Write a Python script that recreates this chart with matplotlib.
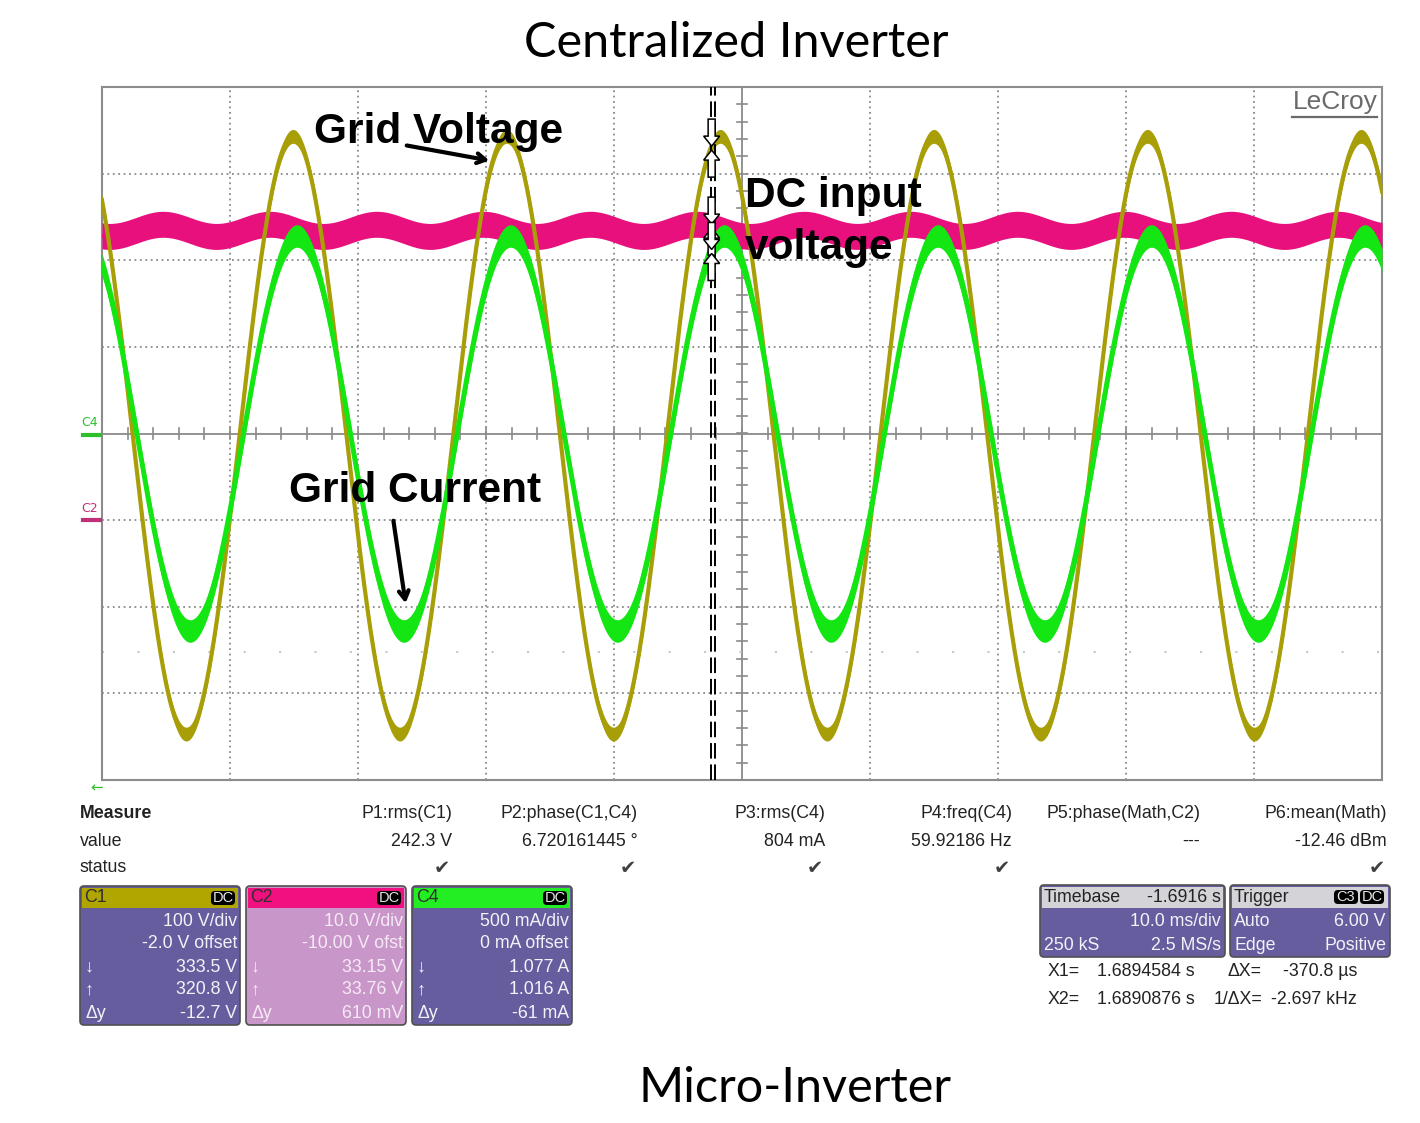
#!/usr/bin/env python3
"""LeCroy scope capture: centralized vs micro-inverter grid waveforms."""
import matplotlib
matplotlib.use("Agg")
import matplotlib.pyplot as plt
from matplotlib.patches import FancyBboxPatch, Rectangle, Polygon
import numpy as np

# ── values ──
freq_hz = 59.92186
phase_deg = 6.720161445
v_peak = 345.0            # C1 grid voltage (V)
v_offset = -2.0
v_per_div = 100.0
v_first_peak_ms = 14.92
i_peak = 1.14             # C4 grid current (A)
i_per_div = 0.5
dc_mean = 33.45           # C2 DC input voltage (V)
dc_ripple = 0.7
dc_offset = -10.0
dc_per_div = 10.0
dc_first_peak_ms = 4.77
cursor_x2_ms = 47.55
cursor_dx_ms = 0.3708

meas_names = ['P1:rms(C1)', 'P2:phase(C1,C4)', 'P3:rms(C4)', 'P4:freq(C4)',
              'P5:phase(Math,C2)', 'P6:mean(Math)']
meas_values = ['242.3 V', '6.720161445 °', '804 mA', '59.92186 Hz', '---', '-12.46 dBm']
meas_ok = [True, True, True, True, False, True]

ch_names = ['C1', 'C2', 'C4']
ch_scale = ['100 V/div', '10.0 V/div', '500 mA/div']
ch_offset = ['-2.0 V offset', '-10.00 V ofst', '0 mA offset']
ch_down = ['333.5 V', '33.15 V', '1.077 A']
ch_up = ['320.8 V', '33.76 V', '1.016 A']
ch_dy = ['-12.7 V', '610 mV', '-61 mA']

timebase = ['-1.6916 s', '10.0 ms/div', '250 kS', '2.5 MS/s']
trigger = ['Auto', '6.00 V', 'Edge', 'Positive']
cursor_rows = [('X1=', '1.6894584 s', 'ΔX=', '-370.8 µs'),
               ('X2=', '1.6890876 s', '1/ΔX=', '-2.697 kHz')]

# ── palette ──
OLIVE = '#a89f08'
PINK = '#e8107c'
GREEN = '#14e614'
GRID = '#8a8a8a'
PURPLE = '#655d9e'
LILAC = '#c896c8'
TXT = '#222222'

W, H = 1420, 1123
fig = plt.figure(figsize=(W / 100, H / 100), dpi=100, facecolor='white')

# ── scope screen (x in ms, y in divisions) ──
L, R, T, B = 102, 1382, 87, 780
ax = fig.add_axes([L / W, 1 - B / H, (R - L) / W, (B - T) / H])
ax.set_xlim(0, 100)
ax.set_ylim(-4, 4)
ax.set_xticks([])
ax.set_yticks([])
for s in ax.spines.values():
    s.set_color('#8c8c8c')
    s.set_linewidth(1.5)

for gx in range(10, 100, 10):
    if gx == 50:
        ax.axvline(gx, color=GRID, lw=1.3, zorder=1)
    else:
        ax.axvline(gx, color=GRID, lw=1.3, ls=(0, (1, 2)), zorder=1)
for gy in range(-3, 4):
    if gy == 0:
        ax.axhline(gy, color=GRID, lw=1.3, zorder=1)
    else:
        ax.axhline(gy, color=GRID, lw=1.3, ls=(0, (1, 2)), zorder=1)
ax.axhline(-2.52, color='#c8c8c8', lw=1.5, ls=(0, (1, 16)), zorder=1)
for tx in np.arange(2, 100, 2):
    ax.plot([tx, tx], [-0.06, 0.06], color=GRID, lw=1.2, zorder=1)
for ty in np.arange(-3.8, 4, 0.2):
    ax.plot([49.6, 50.4], [ty, ty], color=GRID, lw=1.2, zorder=1)

t = np.linspace(0, 100, 6001)
period = 1000.0 / freq_hz
lag = phase_deg / 360.0 * period
v = v_peak * np.cos(2 * np.pi * (t - v_first_peak_ms) / period)
cur = i_peak * np.cos(2 * np.pi * (t - v_first_peak_ms - lag) / period)
dc = dc_mean + dc_ripple * np.cos(2 * np.pi * (t - dc_first_peak_ms) * 2 / period)

y_v = (v + v_offset) / v_per_div
y_i = cur / i_per_div
y_dc = (dc + dc_offset) / dc_per_div

ax.fill_between(t, y_dc - 0.15, y_dc + 0.15, color=PINK, lw=0, zorder=3)
ax.plot(t, y_dc, color=PINK, lw=3, zorder=3)
ax.fill_between(t, y_v - 0.08, y_v + 0.08, color=OLIVE, lw=0, zorder=4)
ax.plot(t, y_v, color=OLIVE, lw=3, zorder=4)
ax.fill_between(t, y_i - 0.13, y_i + 0.13, color=GREEN, lw=0, zorder=5)
ax.plot(t, y_i, color=GREEN, lw=3.5, zorder=5)

# cursors
for cx in (cursor_x2_ms, cursor_x2_ms + cursor_dx_ms):
    ax.axvline(cx, color='black', lw=1.4, ls=(0, (8, 3)), zorder=6)

# ── overlay in pixel coordinates ──
ov = fig.add_axes([0, 0, 1, 1])
ov.set_xlim(0, W)
ov.set_ylim(H, 0)
ov.axis('off')

# hollow cursor arrows where the cursor crosses each trace
cx_px = L + cursor_x2_ms / 100 * (R - L) + 1
for yy in (np.interp(cursor_x2_ms, t, y_v), np.interp(cursor_x2_ms, t, y_dc),
           np.interp(cursor_x2_ms, t, y_i)):
    py = T + (4 - yy) / 8 * (B - T)
    for sgn in (-1, 1):
        tip = py + sgn * 2
        pts = [(cx_px - 3.5, tip + sgn * 27), (cx_px + 3.5, tip + sgn * 27),
               (cx_px + 3.5, tip + sgn * 10), (cx_px + 8, tip + sgn * 10),
               (cx_px, tip), (cx_px - 8, tip + sgn * 10),
               (cx_px - 3.5, tip + sgn * 10)]
        ov.add_patch(Polygon(pts, closed=True, facecolor='white',
                             edgecolor='black', lw=1.1, zorder=8))

ov.text(736, 43, 'Centralized Inverter', ha='center', va='center', fontsize=35,
        family='Lato', color='black')
ov.text(795, 1088, 'Micro-Inverter', ha='center', va='center', fontsize=35,
        family='Lato', color='black')

ov.text(1378, 102, 'LeCroy', ha='right', va='center', fontsize=19,
        family='Liberation Sans', color='#6a6a6a')
ov.plot([1292, 1377], [117, 117], color='#6a6a6a', lw=1.6)

ann = dict(fontsize=30.5, fontweight='bold', family='Liberation Sans', color='black',
           va='center', zorder=10)
ov.text(314, 132, 'Grid Voltage', ha='left', **ann)
ov.text(745, 196, 'DC input', ha='left', **ann)
ov.text(745, 248, 'voltage', ha='left', **ann)
ov.text(289, 491, 'Grid Current', ha='left', **ann)
ov.annotate('', xy=(492, 161), xytext=(404, 145),
            arrowprops=dict(arrowstyle='->,head_length=0.6,head_width=0.35',
                            color='black', lw=3), zorder=10)
ov.annotate('', xy=(406, 606), xytext=(393, 518),
            arrowprops=dict(arrowstyle='->,head_length=0.6,head_width=0.35',
                            color='black', lw=3), zorder=10)

# channel ground markers
ov.text(90, 423, 'C4', ha='center', va='center', fontsize=9, color='#2cc02c')
ov.plot([83, 100], [435, 435], color='#2cc02c', lw=3)
ov.text(90, 508, 'C2', ha='center', va='center', fontsize=9, color='#c0307a')
ov.plot([83, 100], [520, 520], color='#c0307a', lw=3)
ov.text(97, 788, '←', ha='center', va='center', fontsize=11, color='#30c030',
        family='DejaVu Sans')

# ── measure table ──
sc = dict(fontsize=12.8, family='Liberation Sans', color=TXT, va='center')
ov.text(80, 813, 'Measure', ha='left', fontweight='bold', **sc)
ov.text(80, 841, 'value', ha='left', **sc)
ov.text(80, 868, 'status', ha='left', **sc)
col_right = [452, 638, 825, 1012, 1200, 1387]
for xr, name, val, ok in zip(col_right, meas_names, meas_values, meas_ok):
    ov.text(xr, 813, name, ha='right', **sc)
    ov.text(xr, 841, val, ha='right', **sc)
    if ok:
        ov.text(xr - 10, 868, '✔', ha='center', va='center', fontsize=14,
                color='#404040', family='DejaVu Sans')


def badge(x, y, label):
    ov.add_patch(FancyBboxPatch((x, y - 7), 24, 14,
                                boxstyle='round,pad=0,rounding_size=4',
                                facecolor='black', edgecolor='none', zorder=4))
    ov.text(x + 12, y, label, ha='center', va='center', fontsize=10.5,
            family='Liberation Sans', color='#e8e8e8', zorder=5)


hdr_colors = ['#b1a500', '#f0107f', '#22ee22']
body_colors = [PURPLE, LILAC, PURPLE]
body_text = ['#f2f2f8', '#f6eaf6', '#f2f2f8']
for k, x0 in enumerate([80, 246, 412]):
    ov.add_patch(FancyBboxPatch((x0, 886), 160, 139,
                                boxstyle='round,pad=0,rounding_size=4',
                                facecolor=body_colors[k], edgecolor='#505050',
                                lw=1.2, zorder=2))
    ov.add_patch(Rectangle((x0 + 2, 888), 156, 20, facecolor=hdr_colors[k],
                           edgecolor='none', zorder=3))
    ov.text(x0 + 4, 898, ch_names[k], ha='left', zorder=5, **{**sc, 'color': '#303030'})
    badge(x0 + 131, 898, 'DC')
    rows = [ch_scale[k], ch_offset[k], ch_down[k], ch_up[k], ch_dy[k]]
    for r, txt in enumerate(rows):
        ov.text(x0 + 157, 921 + 23 * r, txt, ha='right', zorder=5,
                **{**sc, 'color': body_text[k]})
    for r, sym in zip((2, 3, 4), ('↓', '↑', 'Δy')):
        ov.text(x0 + 5, 921 + 23 * r, sym, ha='left', zorder=5,
                **{**sc, 'color': body_text[k]})

# timebase / trigger
for x0, wdt in ((1040, 185), (1230, 160)):
    ov.add_patch(FancyBboxPatch((x0, 885), wdt, 72,
                                boxstyle='round,pad=0,rounding_size=4',
                                facecolor=PURPLE, edgecolor='#505050', lw=1.2, zorder=2))
    ov.add_patch(Rectangle((x0 + 2, 887), wdt - 4, 21, facecolor='#d4d4d8',
                           edgecolor='none', zorder=3))
wt = {**sc, 'color': '#f2f2f8'}
ov.text(1044, 897, 'Timebase', ha='left', zorder=5, **sc)
ov.text(1221, 897, timebase[0], ha='right', zorder=5, **sc)
ov.text(1221, 922, timebase[1], ha='right', zorder=5, **wt)
ov.text(1044, 945, timebase[2], ha='left', zorder=5, **wt)
ov.text(1221, 945, timebase[3], ha='right', zorder=5, **wt)
ov.text(1234, 897, 'Trigger', ha='left', zorder=5, **sc)
badge(1334, 897, 'C3')
badge(1360, 897, 'DC')
ov.text(1234, 922, trigger[0], ha='left', zorder=5, **wt)
ov.text(1386, 922, trigger[1], ha='right', zorder=5, **wt)
ov.text(1234, 945, trigger[2], ha='left', zorder=5, **wt)
ov.text(1386, 945, trigger[3], ha='right', zorder=5, **wt)

for r, (a, b, c, d) in enumerate(cursor_rows):
    yy = 972 + 28 * r
    ov.text(1048, yy, a, ha='left', **sc)
    ov.text(1195, yy, b, ha='right', **sc)
    ov.text(1262, yy, c, ha='right', **sc)
    ov.text(1357, yy, d, ha='right', **sc)

fig.savefig('out.png', dpi=100, facecolor='white')
plt.close(fig)
